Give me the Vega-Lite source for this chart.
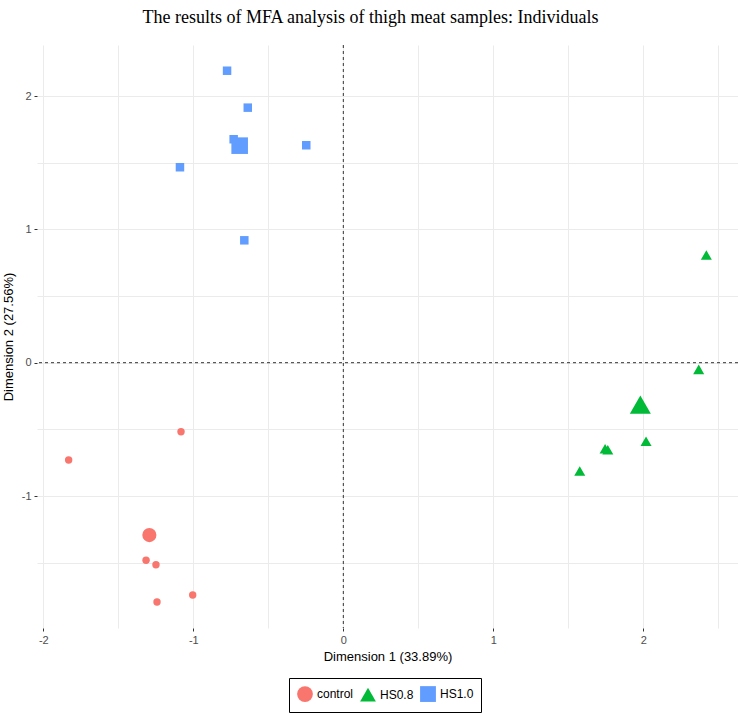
{
  "$schema": "https://vega.github.io/schema/vega-lite/v6.json",
  "width": 701,
  "height": 583,
  "autosize": "none",
  "padding": {"left": 37, "top": 45, "right": 0, "bottom": 85},
  "background": "white",
  "title": {
    "text": "The results of MFA analysis of thigh meat samples: Individuals",
    "font": "Liberation Serif",
    "fontSize": 18,
    "fontWeight": "normal",
    "color": "black",
    "anchor": "middle",
    "dx": -17,
    "offset": 18
  },
  "config": {
    "view": {"stroke": null},
    "axis": {
      "domain": false,
      "grid": true,
      "gridColor": "#EBEBEB",
      "gridWidth": 1,
      "tickColor": "#333333",
      "tickSize": 3,
      "tickWidth": 1,
      "labelFont": "Liberation Sans",
      "labelFontSize": 11,
      "labelColor": "#4D4D4D",
      "labelPadding": 3,
      "titleFont": "Liberation Sans",
      "titleFontSize": 13,
      "titleFontWeight": "normal",
      "titleColor": "black"
    }
  },
  "data": {
    "values": [
      {"group": "control", "kind": "individual", "d1": -1.831, "d2": -0.730},
      {"group": "control", "kind": "individual", "d1": -1.082, "d2": -0.518},
      {"group": "control", "kind": "individual", "d1": -1.315, "d2": -1.482},
      {"group": "control", "kind": "individual", "d1": -1.249, "d2": -1.515},
      {"group": "control", "kind": "individual", "d1": -1.242, "d2": -1.795},
      {"group": "control", "kind": "individual", "d1": -1.004, "d2": -1.743},
      {"group": "HS0.8", "kind": "individual", "d1": 2.420, "d2": 0.808},
      {"group": "HS0.8", "kind": "individual", "d1": 2.369, "d2": -0.050},
      {"group": "HS0.8", "kind": "individual", "d1": 2.018, "d2": -0.590},
      {"group": "HS0.8", "kind": "individual", "d1": 1.745, "d2": -0.645},
      {"group": "HS0.8", "kind": "individual", "d1": 1.763, "d2": -0.653},
      {"group": "HS0.8", "kind": "individual", "d1": 1.576, "d2": -0.812},
      {"group": "HS1.0", "kind": "individual", "d1": -0.775, "d2": 2.190},
      {"group": "HS1.0", "kind": "individual", "d1": -0.637, "d2": 1.913},
      {"group": "HS1.0", "kind": "individual", "d1": -0.731, "d2": 1.676},
      {"group": "HS1.0", "kind": "individual", "d1": -0.247, "d2": 1.631},
      {"group": "HS1.0", "kind": "individual", "d1": -1.089, "d2": 1.466},
      {"group": "HS1.0", "kind": "individual", "d1": -0.660, "d2": 0.918},
      {"group": "control", "kind": "mean", "d1": -1.293, "d2": -1.293},
      {"group": "HS0.8", "kind": "mean", "d1": 1.980, "d2": -0.315},
      {"group": "HS1.0", "kind": "mean", "d1": -0.691, "d2": 1.628}
    ]
  },
  "layer": [
    {
      "data": {"values": [{}]},
      "mark": {"type": "rule", "color": "#333333", "strokeWidth": 1, "strokeDash": [3, 3]},
      "encoding": {"x": {"datum": 0, "type": "quantitative"}}
    },
    {
      "data": {"values": [{}]},
      "mark": {"type": "rule", "color": "#333333", "strokeWidth": 1, "strokeDash": [3, 3]},
      "encoding": {"y": {"datum": 0, "type": "quantitative"}}
    },
    {
      "encoding": {
        "x": {
          "field": "d1",
          "type": "quantitative",
          "title": "Dimension 1 (33.89%)",
          "scale": {"domain": [-2.042, 2.631], "nice": false, "zero": false},
          "axis": {
            "values": [-2, -1.5, -1, -0.5, 0, 0.5, 1, 1.5, 2, 2.5],
            "labelExpr": "datum.value % 1 === 0 ? '' + datum.value : ''",
            "tickOpacity": {"condition": {"test": "datum.value % 1 !== 0", "value": 0}, "value": 1},
            "titlePadding": 5
          }
        },
        "y": {
          "field": "d2",
          "type": "quantitative",
          "title": "Dimension 2 (27.56%)",
          "scale": {"domain": [-1.99, 2.383], "nice": false, "zero": false},
          "axis": {
            "values": [-1.5, -1, -0.5, 0, 0.5, 1, 1.5, 2],
            "labelExpr": "datum.value % 1 === 0 ? '' + datum.value : ''",
            "tickOpacity": {"condition": {"test": "datum.value % 1 !== 0", "value": 0}, "value": 1},
            "titlePadding": 6
          }
        },
        "color": {
          "field": "group",
          "type": "nominal",
          "scale": {"domain": ["control", "HS0.8", "HS1.0"], "range": ["#F8766D", "#00BA38", "#619CFF"]},
          "legend": {
            "title": null,
            "orient": "none",
            "legendX": 252,
            "legendY": 633,
            "direction": "horizontal",
            "strokeColor": "black",
            "fillColor": "white",
            "padding": 7,
            "symbolSize": 250,
            "symbolOpacity": 1,
            "labelFont": "Liberation Sans",
            "labelFontSize": 12,
            "labelColor": "black",
            "labelOffset": 3,
            "columnPadding": 3
          }
        },
        "shape": {
          "field": "group",
          "type": "nominal",
          "scale": {"domain": ["control", "HS0.8", "HS1.0"], "range": ["circle", "triangle-up", "square"]},
          "legend": {
            "title": null,
            "orient": "none",
            "legendX": 252,
            "legendY": 633,
            "direction": "horizontal",
            "strokeColor": "black",
            "fillColor": "white",
            "padding": 7,
            "symbolSize": 250,
            "symbolOpacity": 1,
            "labelFont": "Liberation Sans",
            "labelFontSize": 12,
            "labelColor": "black",
            "labelOffset": 3,
            "columnPadding": 3
          }
        }
      },
      "layer": [
        {
          "transform": [{"filter": "datum.group === 'control'"}],
          "mark": {"type": "point", "filled": true, "opacity": 1},
          "encoding": {
            "size": {"field": "kind", "type": "nominal", "scale": {"domain": ["individual", "mean"], "range": [55, 200]}, "legend": null}
          }
        },
        {
          "transform": [{"filter": "datum.group === 'HS0.8'"}],
          "mark": {"type": "point", "filled": true, "opacity": 1},
          "encoding": {
            "size": {"field": "kind", "type": "nominal", "scale": {"domain": ["individual", "mean"], "range": [121, 441]}, "legend": null}
          }
        },
        {
          "transform": [{"filter": "datum.group === 'HS1.0'"}],
          "mark": {"type": "point", "filled": true, "opacity": 1},
          "encoding": {
            "size": {"field": "kind", "type": "nominal", "scale": {"domain": ["individual", "mean"], "range": [72, 275]}, "legend": null}
          }
        }
      ],
      "resolve": {"scale": {"size": "independent"}}
    }
  ]
}
